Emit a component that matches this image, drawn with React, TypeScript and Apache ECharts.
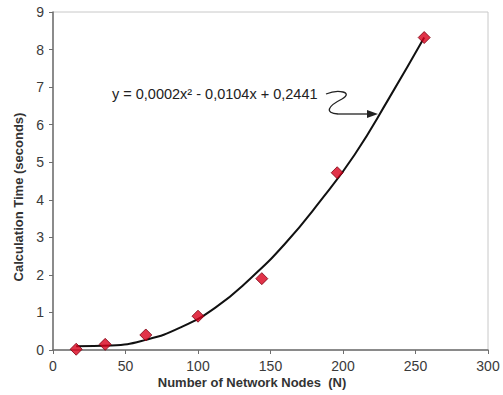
import React, { useEffect, useRef } from "react";
import * as echarts from "echarts";

const nodes = [16, 36, 64, 100, 144, 196, 256];
const times = [0.02, 0.15, 0.4, 0.9, 1.9, 4.72, 8.32];

// points
const curveX = [16, 40, 64, 88, 112, 136, 160, 184, 208, 232, 256];
const curveY = [0.1, 0.12, 0.27, 0.6, 1.13, 1.9, 2.83, 3.95, 5.2, 6.72, 8.32];

const xTicks = { min: 0, max: 300, interval: 50 };
const yTicks = { min: 0, max: 9, interval: 1 };

const equationText = "y = 0,0002x² - 0,0104x + 0,2441";
const xTitle = "Number of Network Nodes  (N)";
const yTitle = "Calculation Time (seconds)";

export default function App() {
  const ref = useRef<HTMLDivElement>(null);
  useEffect(() => {
    if (!ref.current) return;
    const chart = echarts.init(ref.current, null, { renderer: "svg" });
    const font = "Arial, 'Liberation Sans', sans-serif";
    chart.setOption({
      animation: false,
      backgroundColor: "#ffffff",
      textStyle: { fontFamily: font },
      grid: {
        left: 53,
        top: 12,
        right: 15,
        bottom: 45,
        show: true,
        borderColor: "#c8c8c8",
        borderWidth: 1,
        containLabel: false,
      },
      xAxis: {
        type: "value",
        min: xTicks.min,
        max: xTicks.max,
        interval: xTicks.interval,
        splitLine: { show: false },
        axisLine: { show: true, onZero: false, lineStyle: { color: "#6e6e6e", width: 1.5 } },
        axisTick: { show: true, length: 4, lineStyle: { color: "#6e6e6e" } },
        axisLabel: { color: "#3a3a3a", fontSize: 14, margin: 9, fontFamily: font },
      },
      yAxis: {
        type: "value",
        min: yTicks.min,
        max: yTicks.max,
        interval: yTicks.interval,
        splitLine: { show: false },
        axisLine: { show: true, onZero: false, lineStyle: { color: "#6e6e6e", width: 1.5 } },
        axisTick: { show: true, length: 4, lineStyle: { color: "#6e6e6e" } },
        axisLabel: { color: "#3a3a3a", fontSize: 14, margin: 9, fontFamily: font },
      },
      series: [
        {
          type: "line",
          data: curveX.map((x, i) => [x, curveY[i]]),
          smooth: true,
          showSymbol: false,
          symbol: "none",
          lineStyle: { color: "#111111", width: 2 },
          z: 2,
        },
        {
          type: "scatter",
          data: nodes.map((x, i) => [x, times[i]]),
          symbol: "diamond",
          symbolSize: 12,
          itemStyle: { color: "#d9001b", borderColor: "#7a0010", borderWidth: 1 },
          z: 3,
        },
      ],
      graphic: [
        {
          type: "text",
          left: 112,
          top: 86,
          style: {
            text: equationText,
            fontSize: 14.5,
            fontFamily: font,
            fill: "#222222",
          },
        },
        {
          type: "bezierCurve",
          shape: { x1: 326, y1: 94, cpx1: 338, cpy1: 89, cpx2: 354, cpy2: 92, x2: 342, y2: 99 },
          style: { stroke: "#222", lineWidth: 1.3, fill: "none" },
        },
        {
          type: "bezierCurve",
          shape: { x1: 342, y1: 99, cpx1: 328, cpy1: 106, cpx2: 324, cpy2: 113, x2: 338, y2: 114 },
          style: { stroke: "#222", lineWidth: 1.3, fill: "none" },
        },
        {
          type: "line",
          shape: { x1: 338, y1: 114, x2: 370, y2: 114 },
          style: { stroke: "#222", lineWidth: 1.3 },
        },
        {
          type: "polygon",
          shape: { points: [[367, 110], [378, 114], [367, 118]] },
          style: { fill: "#222" },
        },
        {
          type: "text",
          x: 252,
          y: 382,
          style: {
            text: xTitle,
            fontSize: 13,
            fontWeight: "bold",
            fontFamily: font,
            fill: "#333333",
            textAlign: "center",
            textVerticalAlign: "middle",
          },
        },
        {
          type: "text",
          x: 18,
          y: 197,
          rotation: Math.PI / 2,
          style: {
            text: yTitle,
            fontSize: 13,
            fontWeight: "bold",
            fontFamily: font,
            fill: "#333333",
            textAlign: "center",
            textVerticalAlign: "middle",
          },
        },
      ],
    });
    return () => chart.dispose();
  }, []);
  return <div ref={ref} style={{ width: 503, height: 395, position: "absolute", left: 0, top: 0 }} />;
}
